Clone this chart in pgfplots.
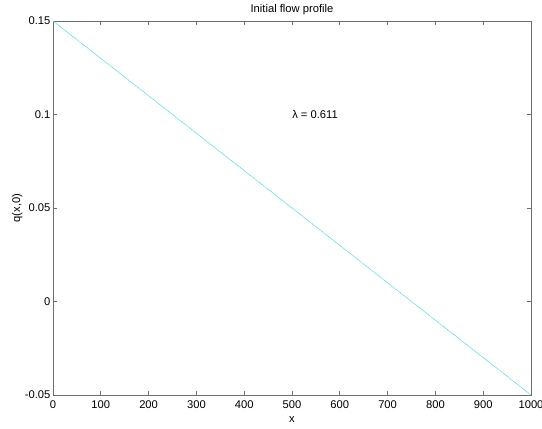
\documentclass[border=0pt]{standalone}
\usepackage{fontspec}
\setmainfont{Liberation Sans}
\usepackage{pgfplots}
\pgfplotsset{compat=1.18}
\definecolor{lineC}{RGB}{90,220,230}
\definecolor{axC}{RGB}{110,110,110}
\begin{document}
\begin{tikzpicture}
\fontsize{8.4}{10}\selectfont
\begin{axis}[
  name=ax,
  scale only axis,
  width=358.5pt, height=280.5pt,
  xmin=0, xmax=1000, ymin=-0.05, ymax=0.15,
  xtick={0,100,...,1000},
  ytick={-0.05,0,0.05,0.1,0.15},
  yticklabels={-0.05,0,0.05,0.1,0.15},
  xticklabels={0,100,200,300,400,500,600,700,800,900,1000},
  tick align=inside,
  major tick length=3pt,
  axis line style={axC, line width=0.6pt},
  tick style={axC, line width=0.5pt},
  ticklabel style={font=\fontsize{8.4}{10}\selectfont, text=black},
  xticklabel style={yshift=-1.5pt},
  yticklabel style={xshift=1pt},
  title={Initial flow profile},
  title style={font=\fontsize{8.4}{10}\selectfont, yshift=-4.5pt},
  xlabel={x},
  ylabel={q(x,0)},
  label style={font=\fontsize{8.4}{10}\selectfont},
  xlabel style={yshift=-2pt, inner sep=1pt},
  ylabel style={yshift=-4pt},
  /pgf/number format/assume math mode=true,
]
\addplot[lineC, line width=0.5pt, dash pattern=on 1pt off 0.4pt] coordinates {(0,0.15) (1000,-0.05)};
\node[anchor=west, inner sep=0pt, font=\fontsize{8.4}{10}\selectfont] at (axis cs:500,0.1) {λ = 0.611};
\end{axis}
\pgfresetboundingbox
\path ([shift={(-39.75pt,-24.75pt)}]ax.south west) rectangle ([shift={(8.25pt,15.75pt)}]ax.north east);
\end{tikzpicture}
\end{document}
